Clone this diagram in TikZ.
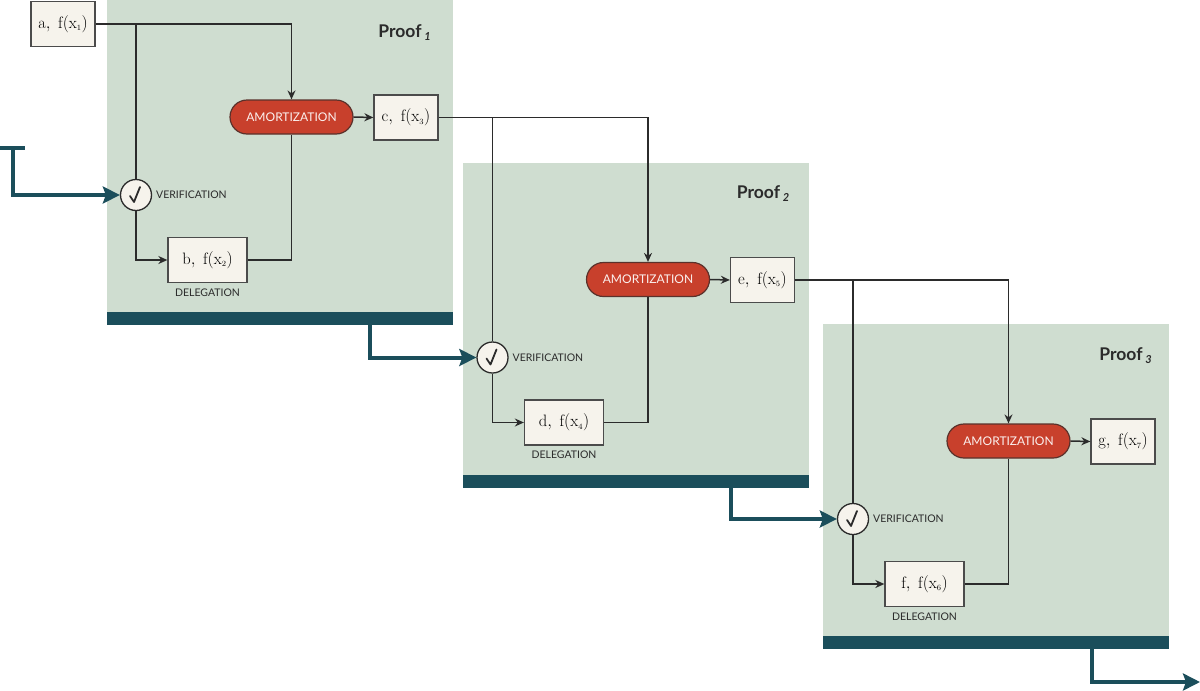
\documentclass[tikz,border=0pt]{standalone}
\usepackage{fontspec}
\newfontfamily\lab{Lato}
\usetikzlibrary{arrows.meta,calc}
\definecolor{bggreen}{HTML}{CFDDD0}
\definecolor{darkteal}{HTML}{1B4E5B}
\definecolor{amred}{HTML}{C8402C}
\definecolor{cream}{HTML}{F6F3EC}
\definecolor{ink}{HTML}{2B2B2B}
\newcommand\vlab[2]{$\mathrm{#1},\;\mathrm{f}(\mathrm{x}_{\scriptscriptstyle #2})$}
\begin{document}
\begin{tikzpicture}[x=1pt,y=-1pt,
 valbox/.style={draw=ink!85, line width=1.3pt, fill=cream, minimum width=64pt, minimum height=45pt, inner sep=0pt, font=\fontsize{16.5}{16.5}\selectfont},
 delbox/.style={valbox, minimum width=79pt},
 amort/.style={draw=ink!70!amred, line width=1.2pt, fill=amred, rounded corners=17pt, minimum width=123pt, minimum height=34pt, inner sep=0pt, text=white!92!amred, font=\lab\fontsize{12}{12}\selectfont},
 verif/.style={circle, draw=ink, line width=1.3pt, fill=cream, minimum size=31pt, inner sep=0pt},
 smalllab/.style={font=\lab\fontsize{10.5}{10.5}\selectfont, text=ink, inner sep=0pt},
 prooflab/.style={anchor=east, inner sep=0pt, text=ink, font=\lab\bfseries\fontsize{17.5}{17.5}\selectfont},
 conn/.style={draw=ink, line width=1.5pt},
 carrow/.style={conn, -{Stealth[length=9pt,width=8pt]}},
 flow/.style={draw=darkteal, line width=4pt, -{Stealth[length=17pt,width=17pt,inset=3pt]}},
 checkm/.style={draw=ink, line width=1.8pt, line join=round, line cap=round}
]
\useasboundingbox (0,0) rectangle (1200,691);
\fill[white] (0,0) rectangle (1200,691);

% backgrounds
\fill[bggreen] (107,0) rectangle (453,312);
\fill[darkteal] (107,312) rectangle (453,325);
\fill[bggreen] (463,163) rectangle (809,475);
\fill[darkteal] (463,475) rectangle (809,488);
\fill[bggreen] (823,324) rectangle (1169,636);
\fill[darkteal] (823,636) rectangle (1169,649);

% outside input
\node[valbox] (a) at (63,24) {\vlab{a}{1}};

% panel 1
\node[amort] (am1) at (291.5,117) {AMORTIZATION};
\node[valbox] (c) at (406,117.5) {\vlab{c}{3}};
\node[verif] (v1) at (136,195) {};
\node[delbox] (b) at (207.5,260) {\vlab{b}{2}};
\node[smalllab, anchor=west] (vl1) at (156,195) {VERIFICATION};
\node[smalllab] (dl1) at (207.5,292.5) {DELEGATION};
\node[prooflab] (p1) at (431,33) {Proof\,\raisebox{-3pt}{\fontsize{11}{11}\selectfont\itshape 1}};

% panel 2
\begin{scope}[shift={(356.5,162.5)}]
\node[amort] (am2) at (291.5,117) {AMORTIZATION};
\node[valbox] (e) at (406,117.5) {\vlab{e}{5}};
\node[verif] (v2) at (136,195) {};
\node[delbox] (d) at (207.5,260) {\vlab{d}{4}};
\node[smalllab, anchor=west] (vl2) at (156,195) {VERIFICATION};
\node[smalllab] (dl2) at (207.5,292.5) {DELEGATION};
\node[prooflab] (p2) at (433,31) {Proof\,\raisebox{-3pt}{\fontsize{11}{11}\selectfont\itshape 2}};
\end{scope}

% panel 3
\begin{scope}[shift={(717,324)}]
\node[amort] (am3) at (291.5,117) {AMORTIZATION};
\node[valbox] (g) at (406,117.5) {\vlab{g}{7}};
\node[verif] (v3) at (136,195) {};
\node[delbox] (f) at (207.5,260) {\vlab{f}{6}};
\node[smalllab, anchor=west] (vl3) at (156,195) {VERIFICATION};
\node[smalllab] (dl3) at (207.5,292.5) {DELEGATION};
\node[prooflab] (p3) at (435,32) {Proof\,\raisebox{-3pt}{\fontsize{11}{11}\selectfont\itshape 3}};
\end{scope}

% check marks
\foreach \v in {v1,v2,v3}{
  \draw[checkm] ($(\v)+(-6,1)$) -- ($(\v)+(-2,7)$) -- ($(\v)+(4,-8)$);
}

% thin connectors
\foreach \inn/\am/\v/\dl/\out in {a/am1/v1/b/c, c/am2/v2/d/e, e/am3/v3/f/g}{
  \draw[carrow] (\inn.east) -| (\am.north);
  \draw[conn] (\v.north) -- (\v.north |- \inn.east);
  \draw[carrow] (\v.south) |- (\dl.west);
  \draw[conn] (\dl.east) -| (\am.south);
  \draw[carrow] (\am.east) -- (\out.west);
}

% thick flows
\coordinate (t0) at (13,148);
\coordinate (tL) at (0,148);
\coordinate (tR) at (25,148);
\draw[darkteal, line width=4pt] (tL) -- (tR);
\draw[flow] (t0) |- (v1.west);
\coordinate (s1) at (370,325);
\draw[flow] (s1) |- (v2.west);
\coordinate (s2) at (731,488);
\draw[flow] (s2) |- (v3.west);
\coordinate (s3) at (1092,649);
\coordinate (endp) at (1200,682);
\draw[flow] (s3) |- (endp);
\end{tikzpicture}
\end{document}
